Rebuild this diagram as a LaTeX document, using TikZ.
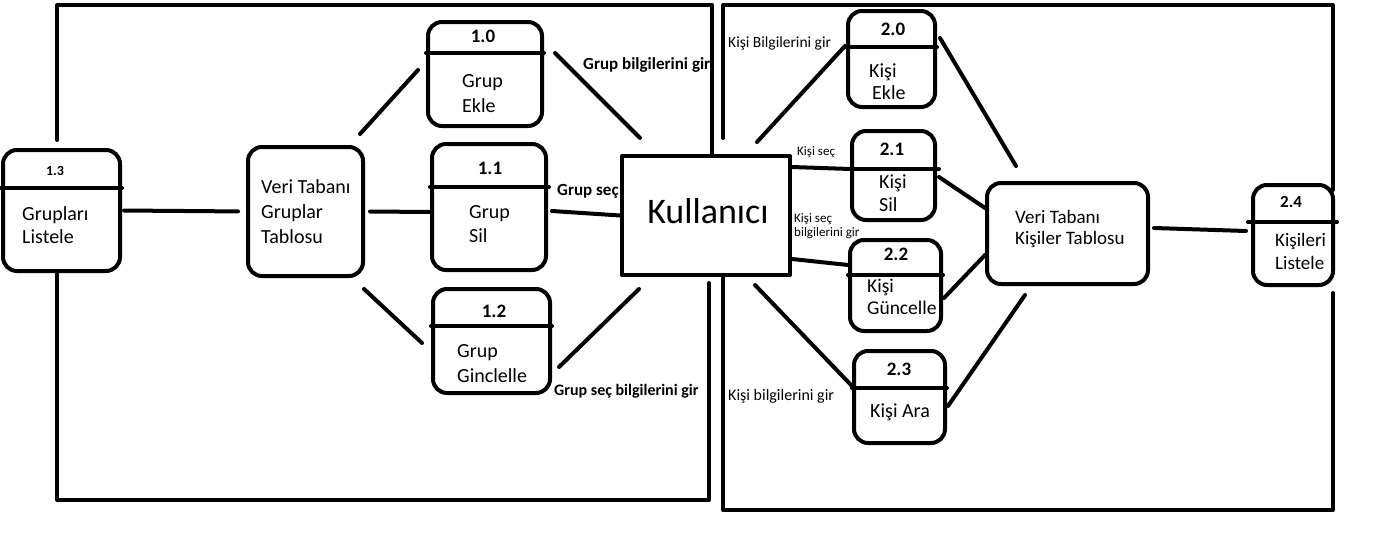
\documentclass[tikz,border=0pt]{standalone}
\usepackage{fontspec}
\setmainfont{Carlito}

\tikzset{
  box/.style={draw,line width=4pt,rounded corners=14pt,inner sep=0pt},
  user/.style={draw,line width=4pt,inner sep=0pt},
  flow/.style={line width=4pt},
  frame/.style={line width=4pt},
  num/.style={font=\fontsize{19}{22}\selectfont\bfseries,anchor=base,inner sep=0pt},
  txt/.style={font=\fontsize{20}{24}\selectfont,align=left,anchor=base west,inner sep=0pt},
  lbl/.style={font=\fontsize{17}{19}\selectfont\bfseries,anchor=base west,inner sep=0pt},
  klbl/.style={font=\fontsize{15.5}{18}\selectfont,anchor=base west,inner sep=0pt},
  slbl/.style={font=\fontsize{13}{13.5}\selectfont,align=left,anchor=base west,inner sep=0pt}
}

\begin{document}
\begin{tikzpicture}[line cap=round,line join=round,x=1pt,y=-1pt]
\useasboundingbox (0,0) rectangle (1378,554);
% frames
\draw[frame] (57,140) -- (57,5) -- (712,5) -- (712,155);
\draw[frame] (57,273) -- (57,500) -- (709,500) -- (709,283);
\draw[frame] (723,138) -- (723,5) -- (1333,5) -- (1333,190);
\draw[frame] (723,278) -- (723,510) -- (1333,510) -- (1333,293);
% group side
\node[box,minimum width=117,minimum height=121] (g13) at (61.5,210.5) {};
\node[box,minimum width=115,minimum height=129] (vtg) at (305.5,211.5) {};
\node[box,minimum width=114,minimum height=104] (g10) at (485,74) {};
\node[box,minimum width=114,minimum height=126] (g11) at (489,207) {};
\node[box,minimum width=117,minimum height=104] (g12) at (491.5,341) {};
\node[user,minimum width=168,minimum height=119] (kul) at (706,215.5) {};
\draw[flow] (g13.west |- 0,188) -- (122,188);
\draw[flow] (g10.west |- 0,53) -- (g10.east |- 0,53);
\draw[flow] (g11.west |- 0,187) -- (549,187);
\draw[flow] (g12.west |- 0,326) -- (552,326);
\node[num,font=\fontsize{14}{16}\selectfont\bfseries] (n13) at (55,175) {1.3};
\node[num] (n10) at (483,42) {1.0};
\node[num] (n11) at (490,174) {1.1};
\node[num] (n12) at (494,317) {1.2};
\node[txt,font=\fontsize{20}{23}\selectfont] (t13) at (22,243) {Grupları\\Listele};
\node[txt,font=\fontsize{20}{25}\selectfont] (tvg) at (261,243) {Veri Tabanı\\Gruplar\\Tablosu};
\node[txt,font=\fontsize{20}{25}\selectfont] (t10) at (462,112) {Grup\\Ekle};
\node[txt] (t11) at (469,242) {Grup\\Sil};
\node[txt,font=\fontsize{20}{25}\selectfont] (t12) at (457,382) {Grup\\Ginclelle};
\node[anchor=base,inner sep=0pt,font=\fontsize{36}{40}\selectfont] (tku) at (708,223) {Kullanıcı};
% person side
\node[box,minimum width=87,minimum height=96] (g20) at (891.5,59) {};
\node[box,minimum width=83,minimum height=89] (g21) at (893.5,175.5) {};
\node[box,minimum width=91,minimum height=91] (g22) at (895.5,285.5) {};
\node[box,minimum width=91,minimum height=92] (g23) at (899.5,397) {};
\node[box,minimum width=161,minimum height=101] (vtk) at (1067.5,233.5) {};
\node[box,minimum width=80,minimum height=100] (g24) at (1293,235) {};
\draw[flow] (g20.west |- 0,47) -- (g20.east |- 0,47);
\draw[flow] (g21.west |- 0,169) -- (939,169);
\draw[flow] (g22.west |- 0,275) -- (943,275);
\draw[flow] (g23.west |- 0,388) -- (g23.east |- 0,388);
\draw[flow] (1248,222) -- (1337,222);
\node[num] (n20) at (893,35) {2.0};
\node[num] (n21) at (892,155) {2.1};
\node[num] (n22) at (896,260) {2.2};
\node[num] (n23) at (899,375) {2.3};
\node[num,font=\fontsize{17}{20}\selectfont\bfseries] (n24) at (1291,207) {2.4};
\node[txt,font=\fontsize{20}{22}\selectfont] (t20) at (869,99) {Kişi\\\hspace{3pt}Ekle};
\node[txt,font=\fontsize{20}{23}\selectfont] (t21) at (879,211) {Kişi\\Sil};
\node[txt,font=\fontsize{19.5}{22}\selectfont] (t22) at (867,314) {Kişi\\Güncelle};
\node[txt] (t23) at (870,417) {Kişi Ara};
\node[txt,font=\fontsize{19}{21}\selectfont] (tvk) at (1015,244) {Veri Tabanı\\Kişiler Tablosu};
\node[txt,font=\fontsize{19}{23}\selectfont] (t24) at (1275,269) {Kişileri\\Listele};
% connectors
\draw[flow,shorten <=2pt,shorten >=8pt] (g13.east) -- (vtg.west);
\draw[flow] ([xshift=5pt]vtg.east) -- ([yshift=-5pt]g11.west);
\draw[flow] ([xshift=-5pt,yshift=11pt]vtg.north east) -- ([xshift=-8pt,yshift=4pt]g10.west);
\draw[flow] ([xshift=-1pt,yshift=-11pt]vtg.south east) -- ([xshift=-9pt,yshift=-2pt]g12.west);
\draw[flow] ([xshift=11pt,yshift=21pt]g10.east) -- ([xshift=20pt,yshift=16pt]kul.north west);
\draw[flow] ([xshift=4pt,yshift=-4pt]g11.east) -- (kul.west);
\draw[flow] ([xshift=7pt,yshift=-26pt]g12.east) -- ([xshift=19pt,yshift=-12pt]kul.south west);
\draw[flow] ([xshift=-35pt,yshift=12pt]kul.north east) -- ([xshift=-1pt,yshift=13pt]g20.west);
\draw[flow] ([yshift=-13pt]kul.north east) -- ([yshift=6.5pt]g21.west);
\draw[flow] ([yshift=18pt]kul.south east) -- ([yshift=20.5pt]g22.west);
\draw[flow] ([xshift=-37pt,yshift=-8pt]kul.south east) -- ([yshift=11pt]g23.west);
\draw[flow] ([xshift=3pt,yshift=21pt]g20.east) -- ([xshift=31pt,yshift=15pt]vtk.north west);
\draw[flow] ([xshift=2pt,yshift=-1.5pt]g21.east) -- ([yshift=25.5pt]vtk.west);
\draw[flow] ([xshift=1pt,yshift=-12.5pt]g22.east) -- ([yshift=-21.5pt]vtk.west);
\draw[flow] ([xshift=1pt,yshift=-9pt]g23.east) -- ([xshift=40pt,yshift=-9pt]vtk.south west);
\draw[flow] ([xshift=4pt,yshift=5.5pt]vtk.east) -- ([xshift=-5pt,yshift=4pt]g24.west);
% labels
\node[lbl] (l1) at (583,69) {Grup bilgilerini gir};
\node[lbl] (l2) at (557,195) {Grup seç};
\node[lbl,font=\fontsize{16}{18}\selectfont\bfseries] (l3) at (554,395) {Grup seç bilgilerini gir};
\node[klbl] (l4) at (728,47) {Kişi Bilgilerini gir};
\node[slbl] (l5) at (797,155) {Kişi seç};
\node[slbl] (l6) at (794,236) {Kişi seç\\bilgilerini gir};
\node[klbl,font=\fontsize{16}{18}\selectfont] (l7) at (728,400) {Kişi bilgilerini gir};
\end{tikzpicture}
\end{document}
